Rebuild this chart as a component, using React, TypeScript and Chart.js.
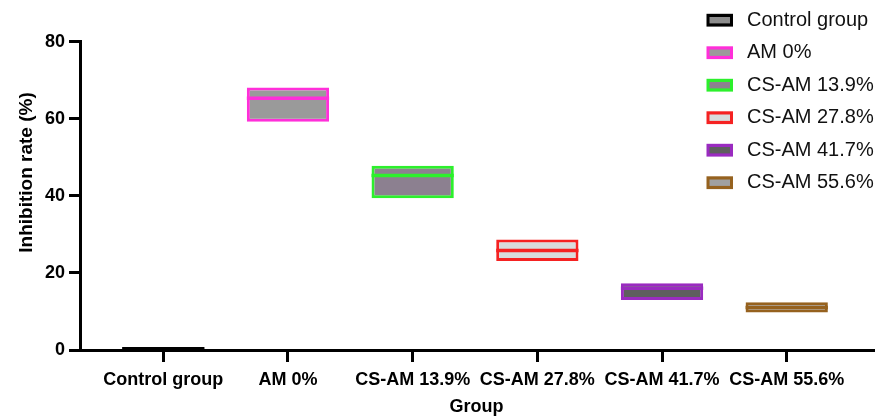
import React, { useEffect, useRef } from 'react';
import { Chart, registerables } from 'chart.js';

Chart.register(...registerables);

const categories = ['Control group', 'AM 0%', 'CS-AM 13.9%', 'CS-AM 27.8%', 'CS-AM 41.7%', 'CS-AM 55.6%'];
const minValues = [0, 59.2, 39.4, 23.1, 13.0, 9.7];
const maxValues = [0.6, 68.1, 47.8, 28.7, 17.3, 12.4];
const medianValues = [0.3, 65.3, 45.3, 25.8, 16.0, 11.05];
const yTicks = [0, 20, 40, 60, 80];
const borderColors = ['#000000', '#ff2fd9', '#2cf02c', '#f52222', '#9a2bc0', '#96621f'];
const fillColors = ['#8c8c8c', '#9a9a9a', '#8c8090', '#d8dcdc', '#5e5e5e', '#a0a0a0'];
const xTitle = 'Group';
const yTitle = 'Inhibition rate (%)';

const FONT = "'Liberation Sans', Arial, sans-serif";

const legendPlugin = {
  id: 'customLegend',
  afterDraw(chart: any) {
    const ctx = chart.ctx;
    ctx.save();
    categories.forEach((label, i) => {
      const bx = 706.5;
      const by = 13.8 + 32.5 * i;
      const bw = 26.5;
      const bh = 12.8;
      ctx.fillStyle = borderColors[i];
      ctx.fillRect(bx, by, bw, bh);
      ctx.fillStyle = fillColors[i];
      ctx.fillRect(bx + 3, by + 3.2, bw - 6, bh - 6.4);
      ctx.fillStyle = '#111111';
      ctx.font = `20px ${FONT}`;
      ctx.textAlign = 'left';
      ctx.textBaseline = 'alphabetic';
      ctx.fillText(label, 747, 25.7 + 32.5 * i);
    });
    ctx.restore();
  },
};

const yTitlePlugin = {
  id: 'yTitle',
  afterDraw(chart: any) {
    const ctx = chart.ctx;
    ctx.save();
    ctx.translate(31.5, 172.5);
    ctx.rotate(-Math.PI / 2);
    ctx.font = `bold 19px ${FONT}`;
    ctx.fillStyle = '#000000';
    ctx.textAlign = 'center';
    ctx.textBaseline = 'alphabetic';
    ctx.fillText(yTitle, 0, 0);
    ctx.restore();
  },
};

export default function App() {
  const canvasRef = useRef<HTMLCanvasElement | null>(null);

  useEffect(() => {
    if (!canvasRef.current) return;
    const boxSets = categories.map((label, i) => ({
      label,
      data: [{ x: i, y: [minValues[i], maxValues[i]] }],
      backgroundColor: fillColors[i],
      borderColor: borderColors[i],
      borderWidth: 3,
      borderSkipped: false as any,
      order: 1,
    }));
    const medianSets = categories.map((label, i) => ({
      label: label + ' median',
      data: [{ x: i, y: [medianValues[i] - 0.45, medianValues[i] + 0.45] }],
      backgroundColor: borderColors[i],
      borderColor: borderColors[i],
      borderWidth: 0,
      order: 0,
    }));

    const chart = new Chart(canvasRef.current, {
      type: 'bar',
      data: { datasets: [...boxSets, ...medianSets] as any },
      options: {
        animation: false,
        responsive: true,
        maintainAspectRatio: false,
        layout: { padding: { top: 41.7, right: 12, bottom: 0, left: 0 } },
        datasets: {
          bar: { grouped: false, categoryPercentage: 1, barPercentage: 0.66 },
        } as any,
        plugins: {
          legend: { display: false },
          tooltip: { enabled: false },
        },
        scales: {
          x: {
            type: 'linear',
            min: -0.668,
            max: 5.692,
            offset: false,
            afterBuildTicks: (scale: any) => {
              scale.ticks = categories.map((_, i) => ({ value: i }));
            },
            afterFit: (scale: any) => {
              scale.height = 68;
            },
            grid: {
              offset: false,
              drawOnChartArea: false,
              color: '#000000',
              lineWidth: 3,
              tickLength: 12,
              tickColor: '#000000',
              tickWidth: 3,
            },
            border: { display: true, color: '#000000', width: 3 },
            ticks: {
              autoSkip: false,
              maxRotation: 0,
              padding: 7,
              color: '#000000',
              font: { family: FONT, size: 18, weight: 'bold' },
              callback: (v: any) => categories[Math.round(Number(v))] ?? '',
            },
            title: {
              display: true,
              text: xTitle,
              color: '#000000',
              padding: { top: 0, bottom: 0 },
              font: { family: FONT, size: 18, weight: 'bold' },
            },
          },
          y: {
            type: 'linear',
            min: 0,
            max: 80,
            afterBuildTicks: (scale: any) => {
              scale.ticks = yTicks.map((v) => ({ value: v }));
            },
            afterFit: (scale: any) => {
              scale.width = 80;
            },
            grid: {
              drawOnChartArea: false,
              color: '#000000',
              lineWidth: 3,
              tickLength: 11,
              tickColor: '#000000',
              tickWidth: 3,
            },
            border: { display: true, color: '#000000', width: 3 },
            ticks: {
              padding: 4,
              color: '#000000',
              font: { family: FONT, size: 18, weight: 'bold' },
            },
            title: { display: false },
          },
        },
      } as any,
      plugins: [legendPlugin, yTitlePlugin],
    });
    return () => chart.destroy();
  }, []);

  return (
    <div style={{ position: 'absolute', left: 0, top: 0, width: 885, height: 418, background: '#ffffff' }}>
      <canvas ref={canvasRef} />
    </div>
  );
}
